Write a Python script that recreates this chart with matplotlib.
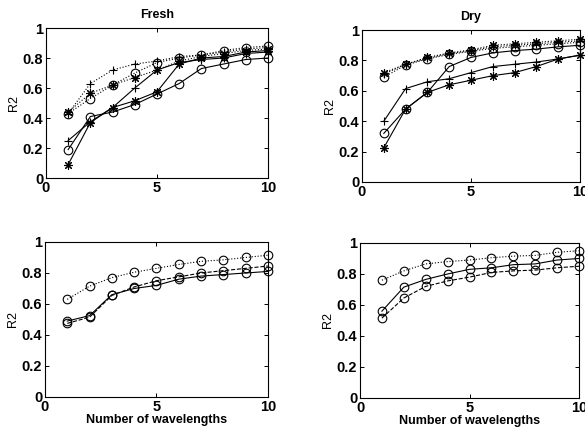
import numpy as np
import matplotlib.pyplot as plt

plt.rcParams['font.family'] = ['Liberation Sans', 'DejaVu Sans']

n_wl = [1, 2, 3, 4, 5, 6, 7, 8, 9, 10]

# Fresh (top left)
fresh_dot_plus = [0.43, 0.63, 0.72, 0.76, 0.78, 0.81, 0.82, 0.84, 0.86, 0.87]
fresh_dot_o = [0.43, 0.53, 0.62, 0.70, 0.77, 0.80, 0.82, 0.85, 0.87, 0.88]
fresh_dot_star = [0.44, 0.565, 0.62, 0.67, 0.72, 0.78, 0.81, 0.83, 0.85, 0.86]
fresh_plus = [0.25, 0.375, 0.47, 0.60, 0.72, 0.77, 0.79, 0.80, 0.83, 0.84]
fresh_o = [0.19, 0.41, 0.44, 0.49, 0.56, 0.63, 0.73, 0.76, 0.79, 0.80]
fresh_star = [0.09, 0.37, 0.47, 0.515, 0.575, 0.76, 0.80, 0.81, 0.84, 0.85]

# Dry (top right)
dry_dot_plus = [0.71, 0.775, 0.815, 0.845, 0.865, 0.89, 0.90, 0.91, 0.92, 0.93]
dry_dot_o = [0.69, 0.77, 0.81, 0.84, 0.86, 0.88, 0.89, 0.90, 0.91, 0.92]
dry_dot_star = [0.72, 0.775, 0.82, 0.85, 0.87, 0.90, 0.91, 0.92, 0.93, 0.94]
dry_plus = [0.40, 0.615, 0.66, 0.68, 0.72, 0.76, 0.775, 0.79, 0.81, 0.835]
dry_o = [0.32, 0.48, 0.59, 0.76, 0.82, 0.85, 0.865, 0.875, 0.89, 0.90]
dry_star = [0.225, 0.48, 0.59, 0.64, 0.67, 0.70, 0.72, 0.76, 0.81, 0.835]

# bottom left
bl_dot = [0.63, 0.715, 0.77, 0.805, 0.83, 0.855, 0.875, 0.885, 0.90, 0.915]
bl_solid = [0.49, 0.525, 0.66, 0.70, 0.72, 0.76, 0.78, 0.79, 0.80, 0.81]
bl_dash = [0.475, 0.515, 0.655, 0.71, 0.75, 0.775, 0.80, 0.815, 0.83, 0.845]

# bottom right
br_dot = [0.76, 0.82, 0.865, 0.88, 0.89, 0.905, 0.915, 0.92, 0.94, 0.95]
br_solid = [0.56, 0.715, 0.765, 0.80, 0.83, 0.84, 0.86, 0.865, 0.89, 0.90]
br_dash = [0.515, 0.645, 0.72, 0.755, 0.78, 0.81, 0.82, 0.825, 0.84, 0.85]

ytick_vals = [0, 0.2, 0.4, 0.6, 0.8, 1]
ytick_labels = ['0', '0.2', '0.4', '0.6', '0.8', '1']
xtick_vals = [0, 5, 10]

STAR = (8, 2, 0)   # matlab style asterisk
lw = 0.8
ms = 6.2


def style(ax):
    ax.set_xlim(0, 10)
    ax.set_ylim(0, 1)
    ax.set_xticks(xtick_vals)
    ax.set_xticklabels([str(v) for v in xtick_vals], fontweight='bold', fontsize=10.5)
    ax.set_yticks(ytick_vals)
    ax.set_yticklabels(ytick_labels, fontweight='bold', fontsize=10.5)
    ax.tick_params(direction='in', length=3, width=0.7, top=True, right=True, pad=2)
    ax.set_ylabel('R2', fontsize=9, labelpad=2)
    for s in ax.spines.values():
        s.set_linewidth(0.8)


def line(ax, y, ls, mk):
    ax.plot(n_wl, y, color='black', linestyle=ls, linewidth=lw, marker=mk,
            markersize=ms, markerfacecolor='none', markeredgecolor='black',
            markeredgewidth=0.8, clip_on=False)


fig = plt.figure(figsize=(5.85, 4.29), dpi=100)
ax1 = fig.add_axes([0.0786, 0.585, 0.3795, 0.3497])
ax2 = fig.add_axes([0.6188, 0.5758, 0.3726, 0.354])
ax3 = fig.add_axes([0.0769, 0.0746, 0.381, 0.3613])
ax4 = fig.add_axes([0.6154, 0.0723, 0.3744, 0.3613])

line(ax1, fresh_dot_plus, ':', '+')
line(ax1, fresh_dot_o, ':', 'o')
line(ax1, fresh_dot_star, ':', STAR)
line(ax1, fresh_plus, '-', '+')
line(ax1, fresh_o, '-', 'o')
line(ax1, fresh_star, '-', STAR)

line(ax2, dry_dot_plus, ':', '+')
line(ax2, dry_dot_o, ':', 'o')
line(ax2, dry_dot_star, ':', STAR)
line(ax2, dry_plus, '-', '+')
line(ax2, dry_o, '-', 'o')
line(ax2, dry_star, '-', STAR)

line(ax3, bl_dot, ':', 'o')
line(ax3, bl_solid, '-', 'o')
line(ax3, bl_dash, '--', 'o')

line(ax4, br_dot, ':', 'o')
line(ax4, br_solid, '-', 'o')
line(ax4, br_dash, '--', 'o')

for ax in (ax1, ax2, ax3, ax4):
    style(ax)

ax1.set_title('Fresh', fontsize=9, fontweight='bold', pad=7)
ax2.set_title('Dry', fontsize=9, fontweight='bold', pad=7)
ax3.set_xlabel('Number of wavelengths', fontsize=9, fontweight='bold', labelpad=0)
ax4.set_xlabel('Number of wavelengths', fontsize=9, fontweight='bold', labelpad=0)

fig.savefig('out.png', dpi=100)
